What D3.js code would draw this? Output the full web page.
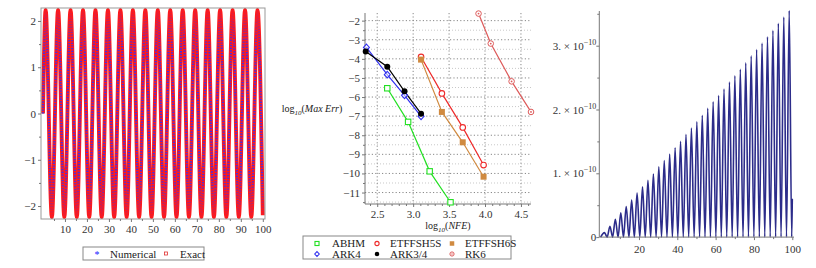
<!DOCTYPE html>
<html>
<head>
<meta charset="utf-8">
<script src="https://cdn.jsdelivr.net/npm/d3@7"></script>
<style>
  body { margin: 0; background: #fff; }
  svg { display: block; font-family: "Liberation Serif", "DejaVu Serif", serif; }
</style>
</head>
<body>
<svg id="chart" width="816" height="268"></svg>
<script>
// ---- panel 1: solution, extrema (t, y)
const SOL_T = [0, 1.2, 4.04, 6.87, 9.71, 12.54, 15.38, 18.21, 21.05, 23.88, 26.72, 29.55, 32.39,
  35.22, 38.06, 40.89, 43.73, 46.56, 49.4, 52.23, 55.07, 57.9, 60.74, 63.57, 66.41, 69.24,
  72.08, 74.91, 77.75, 80.58, 83.42, 86.25, 89.09, 91.92, 94.76, 97.59, 100];
const SOL_Y = [0, 2.24, -2.24, 2.24, -2.24, 2.24, -2.24, 2.24, -2.24, 2.24, -2.24, 2.24, -2.24,
  2.24, -2.24, 2.24, -2.24, 2.24, -2.24, 2.24, -2.24, 2.24, -2.24, 2.24, -2.24, 2.24,
  -2.24, 2.24, -2.24, 2.24, -2.24, 2.24, -2.24, 2.24, -2.24, 2.24, -2.2];
const P1_XTICKS = [10, 20, 30, 40, 50, 60, 70, 80, 90, 100];
const P1_YTICKS = [-2, -1, 0, 1, 2];

// ---- panel 2: efficiency curves, log10(NFE) vs log10(Max Err)
const METHODS = ["ABHM", "ETFFSH5S", "ETFFSH6S", "ARK4", "ARK3/4", "RK6"];
const NFE = [
  [2.64, 2.93, 3.23, 3.52],
  [3.11, 3.40, 3.69, 3.98],
  [3.11, 3.40, 3.69, 3.98],
  [2.35, 2.64, 2.88, 3.11],
  [2.34, 2.64, 2.88, 3.11],
  [3.91, 4.08, 4.37, 4.64]
];
const MAXERR = [
  [-5.54, -7.30, -9.89, -11.51],
  [-3.90, -5.81, -7.59, -9.56],
  [-4.04, -6.78, -8.37, -10.17],
  [-3.40, -4.83, -5.91, -7.01],
  [-3.61, -4.41, -5.70, -6.87],
  [-1.63, -3.20, -5.18, -6.78]
];
const P2_XTICKS = [2.5, 3, 3.5, 4, 4.5];
const P2_YTICKS = [-2, -3, -4, -5, -6, -7, -8, -9, -10, -11];

// ---- panel 3: absolute error, peaks and zeros (t, err * 1e10)
const ERR_PEAK_T = [2.0, 4.84, 7.67, 10.51, 13.34, 16.18, 19.01, 21.85, 24.68, 27.52, 30.35, 33.19,
  36.02, 38.86, 41.69, 44.53, 47.36, 50.2, 53.03, 55.87, 58.7, 61.54, 64.37, 67.21, 70.04,
  72.88, 75.71, 78.55, 81.38, 84.22, 87.05, 89.89, 92.72, 95.56, 98.39];
const ERR_PEAK_V = [0.07, 0.17, 0.28, 0.38, 0.48, 0.58, 0.69, 0.79, 0.89, 0.99, 1.10, 1.20,
  1.30, 1.40, 1.50, 1.61, 1.71, 1.81, 1.91, 2.02, 2.12, 2.22, 2.32, 2.43, 2.53,
  2.63, 2.73, 2.84, 2.94, 3.04, 3.14, 3.24, 3.35, 3.45, 3.55];
const ERR_ZERO_T = [0, 3.42, 6.25, 9.09, 11.92, 14.76, 17.59, 20.43, 23.26, 26.1, 28.93, 31.77,
  34.6, 37.44, 40.27, 43.11, 45.94, 48.78, 51.61, 54.45, 57.28, 60.12, 62.95, 65.79, 68.62,
  71.46, 74.29, 77.13, 79.96, 82.8, 85.63, 88.47, 91.3, 94.14, 96.97, 99.7];
const ERR_END = [100, 0.6];
const P3_XTICKS = [20, 40, 60, 80, 100];
const P3_YTICKS = [1, 2, 3];

const svg = d3.select("#chart");
const axisColor = "#777";
const SERIF = "'Liberation Serif', 'DejaVu Serif', serif";

function styleAxis(g) {
  g.attr("font-family", null).attr("font-size", null);
  g.select(".domain").remove();
  g.selectAll(".tick line").attr("stroke", axisColor);
  g.selectAll(".tick text").style("font-family", SERIF).style("font-size", "11px").attr("fill", "#333");
}

// ================= panel 1
(function() {
  const x = d3.scaleLinear().domain([-0.9, 101]).range([41, 265]);
  const y = d3.scaleLinear().domain([-2.28, 2.28]).range([219, 8]);
  const g = svg.append("g");

  g.append("clipPath").attr("id", "clip1")
    .append("rect").attr("x", 41).attr("y", 8).attr("width", 224).attr("height", 211);

  const pts = SOL_T.map((t, i) => [t, SOL_Y[i]]);
  const line = d3.line().x(d => x(d[0])).y(d => y(d[1])).curve(d3.curveMonotoneX);

  // blue fades out near the extrema, where the red markers pile up
  const grad = g.append("linearGradient").attr("id", "blueFade")
    .attr("gradientUnits", "userSpaceOnUse")
    .attr("x1", 0).attr("x2", 0).attr("y1", y(2.28)).attr("y2", y(-2.28));
  grad.append("stop").attr("offset", "0").attr("stop-color", "#3a2cf0").attr("stop-opacity", 0);
  grad.append("stop").attr("offset", "0.2").attr("stop-color", "#3a2cf0").attr("stop-opacity", 0.95);
  grad.append("stop").attr("offset", "0.8").attr("stop-color", "#3a2cf0").attr("stop-opacity", 0.95);
  grad.append("stop").attr("offset", "1").attr("stop-color", "#3a2cf0").attr("stop-opacity", 0);

  const plot = g.append("g").attr("clip-path", "url(#clip1)");
  plot.append("path").datum(pts).attr("d", line)
    .attr("fill", "none").attr("stroke", "#ff1a1a").attr("stroke-width", 3.9);
  plot.append("path").datum(pts).attr("d", line)
    .attr("fill", "none").attr("stroke", "url(#blueFade)").attr("stroke-width", 2.2)
    .attr("stroke-dasharray", "1.3,1.4");

  g.append("rect").attr("x", 41).attr("y", 8).attr("width", 224).attr("height", 211)
    .attr("fill", "none").attr("stroke", "#999");

  const xAxis = g.append("g").attr("transform", "translate(0,219)")
    .call(d3.axisBottom(x).tickValues(P1_XTICKS).tickSize(3).tickPadding(3));
  styleAxis(xAxis);
  g.append("g").attr("transform", "translate(0,219)")
    .call(d3.axisBottom(x).tickValues(d3.range(5, 100, 10)).tickSize(2).tickFormat(""))
    .call(styleAxis);

  const yAxis = g.append("g").attr("transform", "translate(41,0)")
    .call(d3.axisLeft(y).tickValues(P1_YTICKS).tickSize(3).tickPadding(2)
      .tickFormat(d => d < 0 ? "\u2212" + Math.abs(d) : d));
  styleAxis(yAxis);
  g.append("g").attr("transform", "translate(41,0)")
    .call(d3.axisLeft(y).tickValues([-1.5, -0.5, 0.5, 1.5]).tickSize(2).tickFormat(""))
    .call(styleAxis);

  // legend
  const lg = g.append("g");
  lg.append("rect").attr("x", 83).attr("y", 247).attr("width", 121).attr("height", 13)
    .attr("fill", "#fff").attr("stroke", "#888");
  lg.append("text").attr("x", 97).attr("y", 258).attr("text-anchor", "middle")
    .attr("font-size", 10).attr("fill", "#2020ff").text("*");
  lg.append("text").attr("x", 110).attr("y", 257.5).attr("font-size", 11).attr("fill", "#222").text("Numerical");
  lg.append("rect").attr("x", 164.5).attr("y", 252).attr("width", 3).attr("height", 3)
    .attr("fill", "none").attr("stroke", "#e03030").attr("stroke-width", 0.8);
  lg.append("text").attr("x", 180).attr("y", 257.5).attr("font-size", 11).attr("fill", "#222").text("Exact");
})();

// ================= panel 2
(function() {
  const x = d3.scaleLinear().domain([2.33, 4.64]).range([365, 531]);
  const y = d3.scaleLinear().domain([-11.6, -1.6]).range([204, 13]);
  const g = svg.append("g");

  const colors = ["#22e022", "#ee2a2a", "#d08a40", "#3030f0", "#000000", "#dd5a5a"];
  const color = d3.scaleOrdinal().domain(METHODS).range(colors);

  // grid
  g.append("g").selectAll("line").data(d3.range(-11.5, -1.6, 1)).join("line")
    .attr("x1", 365).attr("x2", 531).attr("y1", d => y(d)).attr("y2", d => y(d))
    .attr("stroke", "#c8c8c8").attr("stroke-dasharray", "1,2");
  g.append("g").selectAll("line").data(P2_YTICKS).join("line")
    .attr("x1", 365).attr("x2", 531).attr("y1", d => y(d)).attr("y2", d => y(d))
    .attr("stroke", "#888").attr("stroke-dasharray", "1.2,2.2");
  g.append("g").selectAll("line").data(P2_XTICKS).join("line")
    .attr("x1", d => x(d)).attr("x2", d => x(d)).attr("y1", 13).attr("y2", 204)
    .attr("stroke", "#888").attr("stroke-dasharray", "1.2,2.2");

  const xAxis = g.append("g").attr("transform", "translate(0,204)")
    .call(d3.axisBottom(x).tickValues(P2_XTICKS).tickSize(3).tickPadding(3));
  styleAxis(xAxis);
  g.append("g").attr("transform", "translate(0,204)")
    .call(d3.axisBottom(x).tickValues(d3.range(2.4, 4.65, 0.1).filter(v => Math.abs(v * 2 - Math.round(v * 2)) > 0.01))
      .tickSize(2).tickFormat(""))
    .call(styleAxis);
  const yAxis = g.append("g").attr("transform", "translate(365,0)")
    .call(d3.axisLeft(y).tickValues(P2_YTICKS).tickSize(3).tickPadding(2)
      .tickFormat(d => "\u2212" + Math.abs(d)));
  styleAxis(yAxis);
  g.append("g").attr("transform", "translate(365,0)")
    .call(d3.axisLeft(y).tickValues(d3.range(-11.5, -1.6, 0.5).filter(v => v % 1 !== 0)).tickSize(2).tickFormat(""))
    .call(styleAxis);
  g.append("line").attr("x1", 365).attr("x2", 365).attr("y1", 13).attr("y2", 204).attr("stroke", axisColor);
  g.append("line").attr("x1", 365).attr("x2", 531).attr("y1", 204).attr("y2", 204).attr("stroke", axisColor);

  const line = d3.line().x(d => x(d[0])).y(d => y(d[1]));
  const series = METHODS.map((m, i) => ({ name: m, pts: NFE[i].map((v, j) => [v, MAXERR[i][j]]) }));

  g.append("g").selectAll("path").data(series).join("path")
    .attr("d", d => line(d.pts)).attr("fill", "none")
    .attr("stroke", d => color(d.name)).attr("stroke-width", 1.2);

  function marker(sel, name, cx, cy, k) {
    const c = color(name);
    if (name === "ABHM") {
      sel.append("rect").attr("x", cx - 2.7 * k).attr("y", cy - 2.7 * k).attr("width", 5.4 * k).attr("height", 5.4 * k)
        .attr("fill", "#fff").attr("stroke", c).attr("stroke-width", 1.1);
    } else if (name === "ETFFSH5S") {
      sel.append("circle").attr("cx", cx).attr("cy", cy).attr("r", 2.8 * k)
        .attr("fill", "#fff").attr("stroke", c).attr("stroke-width", 1.1);
    } else if (name === "ETFFSH6S") {
      sel.append("rect").attr("x", cx - 3 * k).attr("y", cy - 3 * k).attr("width", 6 * k).attr("height", 6 * k)
        .attr("fill", c);
    } else if (name === "ARK4") {
      sel.append("path").attr("d", `M${cx},${cy - 3.3 * k}L${cx + 3 * k},${cy}L${cx},${cy + 3.3 * k}L${cx - 3 * k},${cy}Z`)
        .attr("fill", "#fff").attr("fill-opacity", 0.5).attr("stroke", c).attr("stroke-width", 1.1);
    } else if (name === "ARK3/4") {
      sel.append("circle").attr("cx", cx).attr("cy", cy).attr("r", 3 * k).attr("fill", c);
    } else {
      sel.append("circle").attr("cx", cx).attr("cy", cy).attr("r", 2.8 * k)
        .attr("fill", "#fff").attr("stroke", c).attr("stroke-width", 1);
      sel.append("circle").attr("cx", cx).attr("cy", cy).attr("r", 0.9 * k).attr("fill", c);
    }
  }

  series.forEach(s => {
    const mg = g.append("g");
    s.pts.forEach(p => marker(mg, s.name, x(p[0]), y(p[1]), 1));
  });

  // axis titles
  const yl = g.append("text").attr("x", 312).attr("y", 112).attr("text-anchor", "middle")
    .attr("font-size", 10).attr("fill", "#222");
  yl.append("tspan").text("log");
  yl.append("tspan").attr("font-size", 7).attr("dy", 3).attr("font-style", "italic").text("10");
  yl.append("tspan").attr("dy", -3).text("(");
  yl.append("tspan").attr("font-style", "italic").text("Max Err");
  yl.append("tspan").text(")");

  const xl = g.append("text").attr("x", 448).attr("y", 229).attr("text-anchor", "middle")
    .attr("font-size", 10).attr("fill", "#222");
  xl.append("tspan").text("log");
  xl.append("tspan").attr("font-size", 7).attr("dy", 3).attr("font-style", "italic").text("10");
  xl.append("tspan").attr("dy", -3).text("(");
  xl.append("tspan").attr("font-style", "italic").text("NFE");
  xl.append("tspan").text(")");

  // legend
  const lg = g.append("g");
  lg.append("rect").attr("x", 303).attr("y", 236).attr("width", 208).attr("height", 23)
    .attr("fill", "#fff").attr("stroke", "#888");
  const symX = [317, 377, 452];
  const txtX = [332, 390, 465];
  const rowY = [243.5, 254];
  METHODS.forEach((m, i) => {
    const col = i % 3, row = Math.floor(i / 3);
    marker(lg, m, symX[col], rowY[row], 0.75);
    lg.append("text").attr("x", txtX[col]).attr("y", rowY[row] + 3.8)
      .attr("font-size", 11).attr("fill", "#222").text(m);
  });
})();

// ================= panel 3
(function() {
  const x = d3.scaleLinear().domain([-0.7, 100]).range([599.3, 792.3]);
  const y = d3.scaleLinear().domain([0, 3.55]).range([237.1, 10.6]);
  const g = svg.append("g");

  const pts = ERR_PEAK_T.map((t, i) => [t, ERR_PEAK_V[i]])
    .concat(ERR_ZERO_T.map(t => [t, 0]))
    .concat([ERR_END])
    .sort((a, b) => a[0] - b[0]);

  const line = d3.line().x(d => x(d[0])).y(d => y(d[1])).curve(d3.curveMonotoneX);
  g.append("path").datum(pts).attr("d", line)
    .attr("fill", "none").attr("stroke", "#2c2c8a").attr("stroke-width", 1.6);

  g.append("line").attr("x1", 599.3).attr("x2", 599.3).attr("y1", 11).attr("y2", 237.1).attr("stroke", axisColor);
  g.append("line").attr("x1", 599.3).attr("x2", 794).attr("y1", 237.1).attr("y2", 237.1).attr("stroke", axisColor);

  const xAxis = g.append("g").attr("transform", "translate(0,237.1)")
    .call(d3.axisBottom(x).tickValues(P3_XTICKS).tickSize(3).tickPadding(5));
  styleAxis(xAxis);
  g.append("g").attr("transform", "translate(0,237.1)")
    .call(d3.axisBottom(x).tickValues([10, 30, 50, 70, 90]).tickSize(2).tickFormat(""))
    .call(styleAxis);

  const yAxis = g.append("g").attr("transform", "translate(599.3,0)")
    .call(d3.axisLeft(y).tickValues([0].concat(P3_YTICKS)).tickSize(3).tickPadding(2).tickFormat(""));
  styleAxis(yAxis);
  g.append("g").attr("transform", "translate(599.3,0)")
    .call(d3.axisLeft(y).tickValues([0.5, 1.5, 2.5, 3.5]).tickSize(2).tickFormat(""))
    .call(styleAxis);

  yAxis.selectAll(".tick text").remove();
  yAxis.selectAll(".tick").each(function(d) {
    const t = d3.select(this).append("text").attr("x", -3).attr("dy", "0.32em")
      .attr("text-anchor", "end").attr("fill", "#333").attr("font-size", 11);
    if (d === 0) { t.text("0"); return; }
    t.append("tspan").text(d + ". \u00d7 10");
    t.append("tspan").attr("font-size", 8).attr("dy", -5).text("\u221210");
  });
})();
</script>
</body>
</html>
